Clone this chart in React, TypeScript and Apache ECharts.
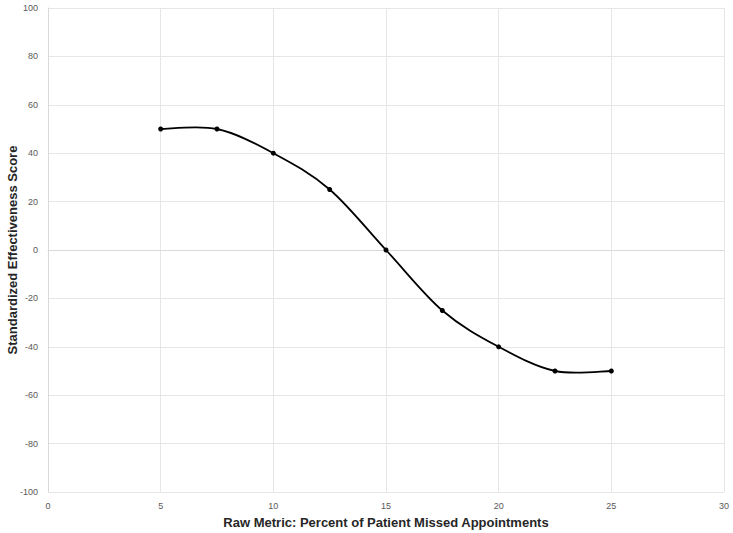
import React, { useEffect, useRef } from "react";
import * as echarts from "echarts";

const xValues = [5, 7.5, 10, 12.5, 15, 17.5, 20, 22.5, 25];
const yValues = [50, 50, 40, 25, 0, -25, -40, -50, -50];
const xTitle = "Raw Metric: Percent of Patient Missed Appointments";
const yTitle = "Standardized Effectiveness Score";

export default function App() {
  const ref = useRef<HTMLDivElement>(null);
  useEffect(() => {
    if (!ref.current) return;
    const chart = echarts.init(ref.current, null, { renderer: "svg" });
    const points = xValues.map((x, i) => [x, yValues[i]]);
    chart.setOption({
      animation: false,
      backgroundColor: "#ffffff",
      grid: { left: 48, right: 9, top: 8, bottom: 41, containLabel: false, outerBoundsMode: "none" },
      xAxis: {
        type: "value",
        min: 0,
        max: 30,
        interval: 5,
        name: xTitle,
        nameLocation: "middle",
        nameGap: 24,
        nameMoveOverlap: false,
        nameTextStyle: { fontFamily: "Liberation Sans", fontWeight: "bold", fontSize: 13, color: "#262626" },
        axisLine: { show: true, lineStyle: { color: "#d9d9d9" } },
        axisTick: { show: false },
        axisLabel: { fontFamily: "Liberation Sans", fontSize: 9, color: "#595959", margin: 9 },
        splitLine: { show: true, lineStyle: { color: "#e6e6e6" } },
      },
      yAxis: {
        type: "value",
        min: -100,
        max: 100,
        interval: 20,
        name: yTitle,
        nameLocation: "middle",
        nameGap: 29,
        nameMoveOverlap: false,
        nameTextStyle: { fontFamily: "Liberation Sans", fontWeight: "bold", fontSize: 13, color: "#262626" },
        axisLine: { show: true, lineStyle: { color: "#d9d9d9" } },
        axisTick: { show: false },
        axisLabel: { fontFamily: "Liberation Sans", fontSize: 9, color: "#595959", margin: 10 },
        splitLine: { show: true, lineStyle: { color: "#e6e6e6" } },
      },
      series: [
        {
          type: "custom",
          data: points,
          silent: true,
          renderItem: (params: any, api: any) => {
            if (params.dataIndex !== 0) return null;
            const p = points.map((pt) => api.coord(pt));
            const n = p.length;
            let d = `M${p[0][0]},${p[0][1]}`;
            for (let i = 0; i < n - 1; i++) {
              const p0 = p[Math.max(i - 1, 0)];
              const p1 = p[i];
              const p2 = p[i + 1];
              const p3 = p[Math.min(i + 2, n - 1)];
              const c1x = p1[0] + (p2[0] - p0[0]) / 6;
              const c1y = p1[1] + (p2[1] - p0[1]) / 6;
              const c2x = p2[0] - (p3[0] - p1[0]) / 6;
              const c2y = p2[1] - (p3[1] - p1[1]) / 6;
              d += ` C${c1x},${c1y} ${c2x},${c2y} ${p2[0]},${p2[1]}`;
            }
            return {
              type: "path",
              shape: { pathData: d },
              style: { fill: "none", stroke: "#000000", lineWidth: 1.8 },
            };
          },
          z: 2,
        },
        {
          type: "line",
          data: points,
          symbol: "circle",
          symbolSize: 5,
          itemStyle: { color: "#000000" },
          lineStyle: { width: 0, opacity: 0 },
          z: 3,
        },
      ],
    });
    return () => chart.dispose();
  }, []);
  return <div ref={ref} style={{ width: 733, height: 533, position: "absolute", left: 0, top: 0 }} />;
}
